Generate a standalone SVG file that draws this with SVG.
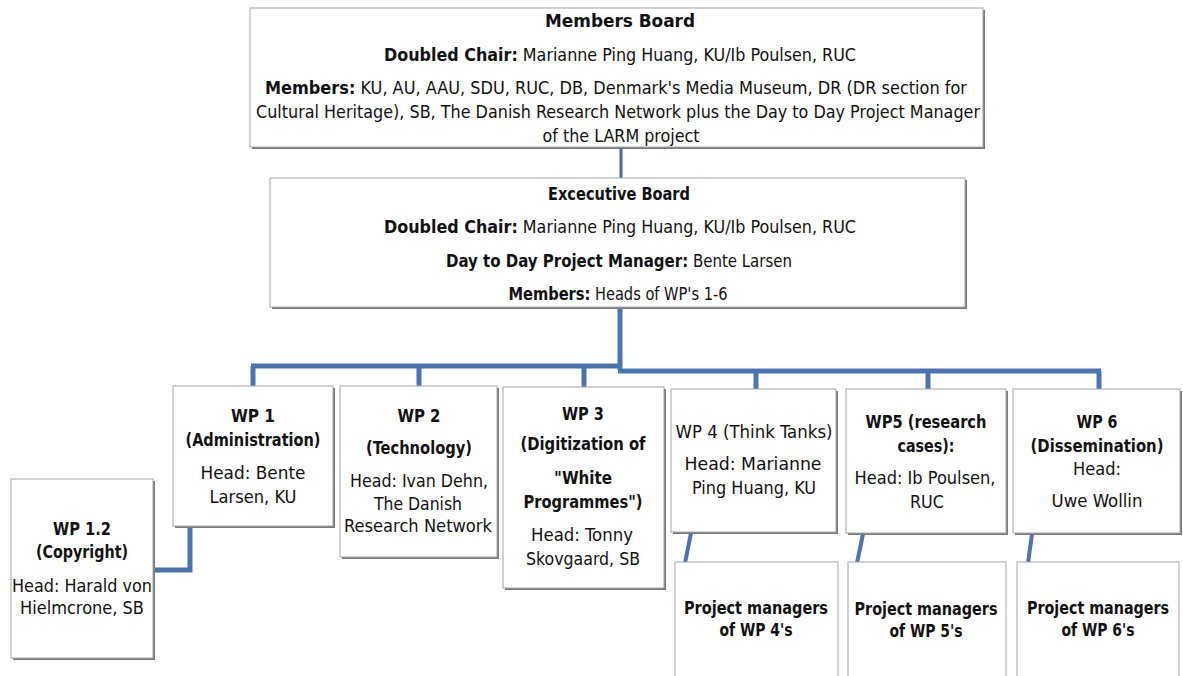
<svg xmlns="http://www.w3.org/2000/svg" width="1183" height="676" viewBox="0 0 1183 676">
<style>
  .bg{fill:#ffffff}
  .shadow{fill:#7a7a7a}
  .box{fill:#ffffff;stroke:#a6a6a6;stroke-width:1}
  text{font-family:"Liberation Sans Narrow","DejaVu Sans Condensed","Liberation Sans",sans-serif;font-size:17px;fill:#111111;text-anchor:middle}
  .b{font-weight:bold}
  .conn{fill:none;stroke:#4a75b0;stroke-width:5;stroke-linejoin:miter;stroke-linecap:butt}
  .thin{stroke-width:3;stroke:#3f6da6}
  .mid{stroke-width:4}
</style>
<rect class="bg" x="0" y="0" width="1183" height="676"/>

<g id="connectors">
  <path class="conn thin" d="M621 147 V178"/>
  <path class="conn" d="M620 308 V370"/>
  <path class="conn" d="M251 366 H620"/>
  <path class="conn" d="M253 366 V387"/>
  <path class="conn" d="M419 366 V387"/>
  <path class="conn" d="M584 366 V388"/>
  <path class="conn" d="M618 371 H1101"/>
  <path class="conn" d="M756 371 V390"/>
  <path class="conn" d="M928 371 V390"/>
  <path class="conn" d="M1099 371 V390"/>
  <path class="conn" d="M190 527 V570 H153"/>
  <path class="conn mid" d="M691 533 L685 563"/>
  <path class="conn mid" d="M863 534 L857 563"/>
  <path class="conn mid" d="M1032 534 L1028 563"/>
</g>

<g id="members-board">
  <rect class="shadow" x="252" y="10" width="733" height="139"/>
  <rect class="box" x="250" y="8" width="733" height="139"/>
  <text class="b" x="620" y="27" textLength="150" lengthAdjust="spacingAndGlyphs">Members Board</text>
  <text x="620" y="61" textLength="472" lengthAdjust="spacingAndGlyphs"><tspan class="b">Doubled Chair:</tspan> Marianne Ping Huang, KU/Ib Poulsen, RUC</text>
  <text x="616" y="94" textLength="702" lengthAdjust="spacingAndGlyphs"><tspan class="b">Members:</tspan> KU, AU, AAU, SDU, RUC, DB, Denmark's Media Museum, DR (DR section for</text>
  <text x="618" y="118" textLength="724" lengthAdjust="spacingAndGlyphs">Cultural Heritage), SB, The Danish Research Network plus the Day to Day Project Manager</text>
  <text x="621" y="142" textLength="157" lengthAdjust="spacingAndGlyphs">of the LARM project</text>
</g>

<g id="executive-board">
  <rect class="shadow" x="272" y="180" width="695" height="129"/>
  <rect class="box" x="270" y="178" width="695" height="129"/>
  <text class="b" x="619" y="200" textLength="142" lengthAdjust="spacingAndGlyphs">Excecutive Board</text>
  <text x="620" y="233" textLength="472" lengthAdjust="spacingAndGlyphs"><tspan class="b">Doubled Chair:</tspan> Marianne Ping Huang, KU/Ib Poulsen, RUC</text>
  <text x="619" y="267" textLength="346" lengthAdjust="spacingAndGlyphs"><tspan class="b">Day to Day Project Manager:</tspan> Bente Larsen</text>
  <text x="618" y="300" textLength="219" lengthAdjust="spacingAndGlyphs"><tspan class="b">Members:</tspan> Heads of WP's 1-6</text>
</g>

<g id="wp1">
  <rect class="shadow" x="175" y="388" width="160" height="140"/>
  <rect class="box" x="173" y="386" width="160" height="140"/>
  <text class="b" x="253" y="422" textLength="44" lengthAdjust="spacingAndGlyphs">WP 1</text>
  <text class="b" x="253" y="446" textLength="135" lengthAdjust="spacingAndGlyphs">(Administration)</text>
  <text x="253" y="479" textLength="105" lengthAdjust="spacingAndGlyphs">Head:  Bente</text>
  <text x="253" y="503" textLength="87" lengthAdjust="spacingAndGlyphs">Larsen, KU</text>
</g>

<g id="wp2">
  <rect class="shadow" x="342" y="388" width="157" height="171"/>
  <rect class="box" x="340" y="386" width="157" height="171"/>
  <text class="b" x="419" y="422" textLength="43" lengthAdjust="spacingAndGlyphs">WP 2</text>
  <text class="b" x="419" y="454" textLength="106" lengthAdjust="spacingAndGlyphs">(Technology)</text>
  <text x="419" y="487" textLength="138" lengthAdjust="spacingAndGlyphs">Head: Ivan Dehn,</text>
  <text x="418" y="510" textLength="88" lengthAdjust="spacingAndGlyphs">The Danish</text>
  <text x="418" y="532" textLength="148" lengthAdjust="spacingAndGlyphs">Research Network</text>
</g>

<g id="wp3">
  <rect class="shadow" x="505" y="389" width="161" height="201"/>
  <rect class="box" x="503" y="387" width="161" height="201"/>
  <text class="b" x="583" y="420" textLength="42" lengthAdjust="spacingAndGlyphs">WP 3</text>
  <text class="b" x="583" y="450" textLength="125" lengthAdjust="spacingAndGlyphs">(Digitization  of</text>
  <text class="b" x="583" y="484" textLength="58" lengthAdjust="spacingAndGlyphs">"White</text>
  <text class="b" x="583" y="508" textLength="119" lengthAdjust="spacingAndGlyphs">Programmes")</text>
  <text x="582" y="541" textLength="102" lengthAdjust="spacingAndGlyphs">Head: Tonny</text>
  <text x="583" y="565" textLength="114" lengthAdjust="spacingAndGlyphs">Skovgaard, SB</text>
</g>

<g id="wp4">
  <rect class="shadow" x="673" y="391" width="165" height="143"/>
  <rect class="box" x="671" y="389" width="165" height="143"/>
  <text x="754" y="438" textLength="157" lengthAdjust="spacingAndGlyphs">WP 4 (Think Tanks)</text>
  <text x="753" y="470" textLength="137" lengthAdjust="spacingAndGlyphs">Head:  Marianne</text>
  <text x="754" y="494" textLength="124" lengthAdjust="spacingAndGlyphs">Ping Huang, KU</text>
</g>

<g id="wp5">
  <rect class="shadow" x="848" y="391" width="160" height="144"/>
  <rect class="box" x="846" y="389" width="160" height="144"/>
  <text class="b" x="926" y="428" textLength="121" lengthAdjust="spacingAndGlyphs">WP5 (research</text>
  <text class="b" x="926" y="452" textLength="57" lengthAdjust="spacingAndGlyphs">cases):</text>
  <text x="925" y="484" textLength="141" lengthAdjust="spacingAndGlyphs">Head: Ib Poulsen,</text>
  <text x="927" y="508" textLength="34" lengthAdjust="spacingAndGlyphs">RUC</text>
</g>

<g id="wp6">
  <rect class="shadow" x="1015" y="391" width="167" height="144"/>
  <rect class="box" x="1013" y="389" width="167" height="144"/>
  <text class="b" x="1097" y="428" textLength="41" lengthAdjust="spacingAndGlyphs">WP 6</text>
  <text class="b" x="1097" y="452" textLength="133" lengthAdjust="spacingAndGlyphs">(Dissemination)</text>
  <text x="1097" y="475" textLength="48" lengthAdjust="spacingAndGlyphs">Head:</text>
  <text x="1097" y="507" textLength="91" lengthAdjust="spacingAndGlyphs">Uwe Wollin</text>
</g>

<g id="wp1-2">
  <rect class="shadow" x="13" y="481" width="142" height="179"/>
  <rect class="box" x="11" y="479" width="142" height="179"/>
  <text class="b" x="82" y="535" textLength="58" lengthAdjust="spacingAndGlyphs">WP 1.2</text>
  <text class="b" x="82" y="558" textLength="92" lengthAdjust="spacingAndGlyphs">(Copyright)</text>
  <text x="82" y="592" textLength="140" lengthAdjust="spacingAndGlyphs">Head: Harald von</text>
  <text x="82" y="614" textLength="124" lengthAdjust="spacingAndGlyphs">Hielmcrone, SB</text>
</g>

<g id="pm4">
  <rect class="box" x="675" y="562" width="163" height="130"/>
  <text class="b" x="756" y="614" textLength="144" lengthAdjust="spacingAndGlyphs">Project managers</text>
  <text class="b" x="756" y="636" textLength="73" lengthAdjust="spacingAndGlyphs">of WP 4's</text>
</g>

<g id="pm5">
  <rect class="box" x="848" y="562" width="158" height="130"/>
  <text class="b" x="926" y="615" textLength="143" lengthAdjust="spacingAndGlyphs">Project managers</text>
  <text class="b" x="926" y="637" textLength="73" lengthAdjust="spacingAndGlyphs">of WP 5's</text>
</g>

<g id="pm6">
  <rect class="box" x="1017" y="562" width="162" height="130"/>
  <text class="b" x="1098" y="614" textLength="142" lengthAdjust="spacingAndGlyphs">Project managers</text>
  <text class="b" x="1098" y="636" textLength="73" lengthAdjust="spacingAndGlyphs">of WP 6's</text>
</g>
</svg>
